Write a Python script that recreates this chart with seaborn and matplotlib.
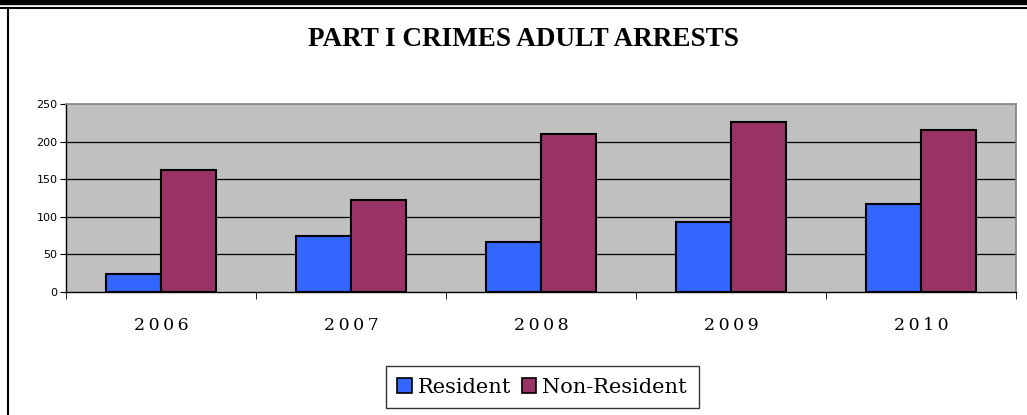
import pandas as pd
import matplotlib.pyplot as plt
import seaborn as sns
from matplotlib.lines import Line2D
from matplotlib.patches import Rectangle

# values
years = ["2006", "2007", "2008", "2009", "2010"]
resident = [24, 74, 67, 93, 117]
non_resident = [162, 122, 210, 226, 216]
series_names = ["Resident", "Non-Resident"]
colors = ["#3366FF", "#993366"]

df = pd.DataFrame({
    "Year": years * 2,
    "Arrests": resident + non_resident,
    "Type": [series_names[0]] * len(years) + [series_names[1]] * len(years),
})

sns.set_style("white")
plt.rcParams['font.family'] = ['DejaVu Sans']
plt.rcParams['text.color'] = 'black'
plt.rcParams['xtick.color'] = 'black'
plt.rcParams['ytick.color'] = 'black'

fig = plt.figure(figsize=(10.27, 4.15), dpi=100)
ax = fig.add_axes([66 / 1027, 1 - 292 / 415, 950 / 1027, 188 / 415])

sns.barplot(data=df, x="Year", y="Arrests", hue="Type", palette=colors,
            width=0.58, gap=0, edgecolor="black", linewidth=1.5,
            saturation=1, ax=ax, legend=False, zorder=3)

ax.set_facecolor("#C0C0C0")
ax.set_ylim(0, 250)
ax.set_xlim(-0.5, len(years) - 0.5)
ax.set_yticks([0, 50, 100, 150, 200, 250])
ax.tick_params(axis="y", labelsize=8, length=4, direction="out", left=True, pad=2)
for y in [50, 100, 150, 200]:
    ax.axhline(y, color="black", linewidth=0.9, zorder=1)

# category labels with spaced digits, ticks at category boundaries
ax.set_xticks(range(len(years)))
ax.set_xticklabels(["\u2009".join(y) for y in years], family="DejaVu Serif",
                   fontsize=12.5)
ax.tick_params(axis="x", length=0, pad=18)
ax.set_xticks([i - 0.5 for i in range(len(years) + 1)], minor=True)
ax.tick_params(axis="x", which="minor", length=5, direction="out", bottom=True)
ax.set_xlabel("")
ax.set_ylabel("")

for s in ["top", "right"]:
    ax.spines[s].set_color("#808080")
    ax.spines[s].set_linewidth(1.2)
for s in ["left", "bottom"]:
    ax.spines[s].set_color("black")
    ax.spines[s].set_linewidth(1)

fig.text(0.51, 1 - 39 / 415, "PART I CRIMES ADULT ARRESTS", ha="center", va="center",
         family="Liberation Serif", fontweight="bold", fontsize=19.5, color="black")

# frame of the page
fig.add_artist(Rectangle((0, 1 - 4 / 415), 1, 4 / 415, transform=fig.transFigure,
                         color="black", zorder=5))
fig.add_artist(Line2D([0, 1], [1 - 8 / 415, 1 - 8 / 415], transform=fig.transFigure,
                      color="black", linewidth=1.5))
fig.add_artist(Line2D([7.5 / 1027, 7.5 / 1027], [0, 1 - 8 / 415], transform=fig.transFigure,
                      color="black", linewidth=1.5))

handles = [Rectangle((0, 0), 1, 1, facecolor=c, edgecolor="black", linewidth=1.2)
           for c in colors]
leg = fig.legend(handles, series_names, loc="center", bbox_to_anchor=(542 / 1027, 1 - 387 / 415),
                 ncol=2, frameon=True, fancybox=False, edgecolor="black",
                 prop={"family": "DejaVu Serif", "size": 15},
                 handlelength=0.7, handleheight=0.7, handletextpad=0.3,
                 columnspacing=0.5, borderpad=0.55)
leg.get_frame().set_linewidth(1)

fig.savefig("out.png", dpi=100)
